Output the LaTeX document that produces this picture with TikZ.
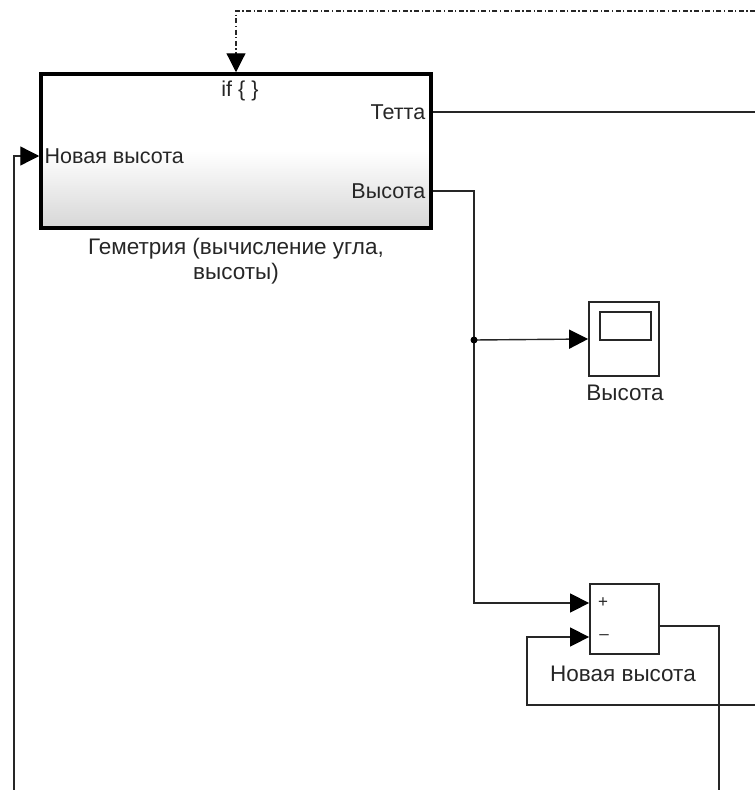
\documentclass[tikz,border=0pt]{standalone}
\usepackage{fontspec}
\setmainfont{Liberation Sans}
\usetikzlibrary{arrows.meta,shadows}

\begin{document}
\begin{tikzpicture}
[x=1pt,y=-1pt,line width=1.4pt,
every node/.style={text=black!85,font=\fontsize{22}{26}\selectfont},
sig/.style={draw=black!85,line width=1.4pt,-{Triangle[length=19pt,width=19pt,color=black]}},
wire/.style={draw=black!85,line width=1.4pt},
ctrl/.style={sig,line width=1.2pt,dash pattern=on 5pt off 2.5pt on 1.2pt off 2.5pt},
subsys/.style={draw=black,line width=3.5pt,top color=white,bottom color=black!16,middle color=white,shading angle=0,minimum width=390pt,minimum height=154pt,inner sep=0pt,drop shadow={opacity=.25,shadow xshift=1pt,shadow yshift=-1pt}},
blk/.style={draw=black!85,line width=1.8pt,fill=white,inner sep=0pt,drop shadow={opacity=.25,shadow xshift=1pt,shadow yshift=-1pt}},
port/.style={font=\fontsize{21.5}{26}\selectfont,inner sep=2pt},
sgn/.style={font=\fontsize{17}{19}\selectfont,inner sep=0pt},
lbl/.style={align=center,font=\fontsize{22.5}{25}\selectfont},
dot/.style={circle,fill=black,inner sep=0pt,minimum size=7pt},]
\useasboundingbox (0,0) rectangle (755,790);
% blocks
\node[subsys] (geom) at (236,151) {};
\node[port] (ifport) at (240,91) {if \{ \}};
\node[port,anchor=east] (tetta) at (428,112) {Тетта};
\node[port,anchor=east] (vys) at (428,191) {Высота};
\node[port,anchor=west] (nvys) at (42,156) {Новая высота};
\node[lbl,anchor=north] (geomlbl) at (236,234) {Геметрия (вычисление угла,\\высоты)};
\node[blk,minimum width=70pt,minimum height=74pt] (scope) at (624,339) {};
\node[draw=black!85,line width=1.4pt,minimum width=51pt,minimum height=28pt,inner sep=0pt] (screen) at (625.5,326) {};
\node[lbl] (scopelbl) at (625,393) {Высота};
\node[blk,minimum width=69pt,minimum height=70pt] (sum) at (624.5,619) {};
\node[sgn] (plus) at (603,603) {+};
\node[sgn] (minus) at (604,637) {--};
\node[lbl] (sumlbl) at (623,674) {Новая высота};
% free ends
\coordinate (ctlin) at (755,11);
\coordinate (tettaout) at (755,112);
\coordinate (fbin) at (755,705);
\coordinate (nvysin) at (14,790);
\coordinate (sumout) at (719,790);
\coordinate (split) at (474,340);
% connectors
\draw[ctrl] (ctlin) -| (geom.north);
\draw[wire] (geom.east |- tetta) -- (tettaout);
\draw[sig] (geom.east |- vys) -| (split) |- (sum.west |- plus);
\draw[sig] (split) -- (scope.west);
\node[dot] at (split) {};
\draw[sig] (nvysin) |- (geom.west |- nvys);
\draw[wire] (sum.east |- 0,626) -| (sumout);
\draw[sig] (fbin) -| (527,637) -- (sum.west |- minus);
\end{tikzpicture}
\end{document}
